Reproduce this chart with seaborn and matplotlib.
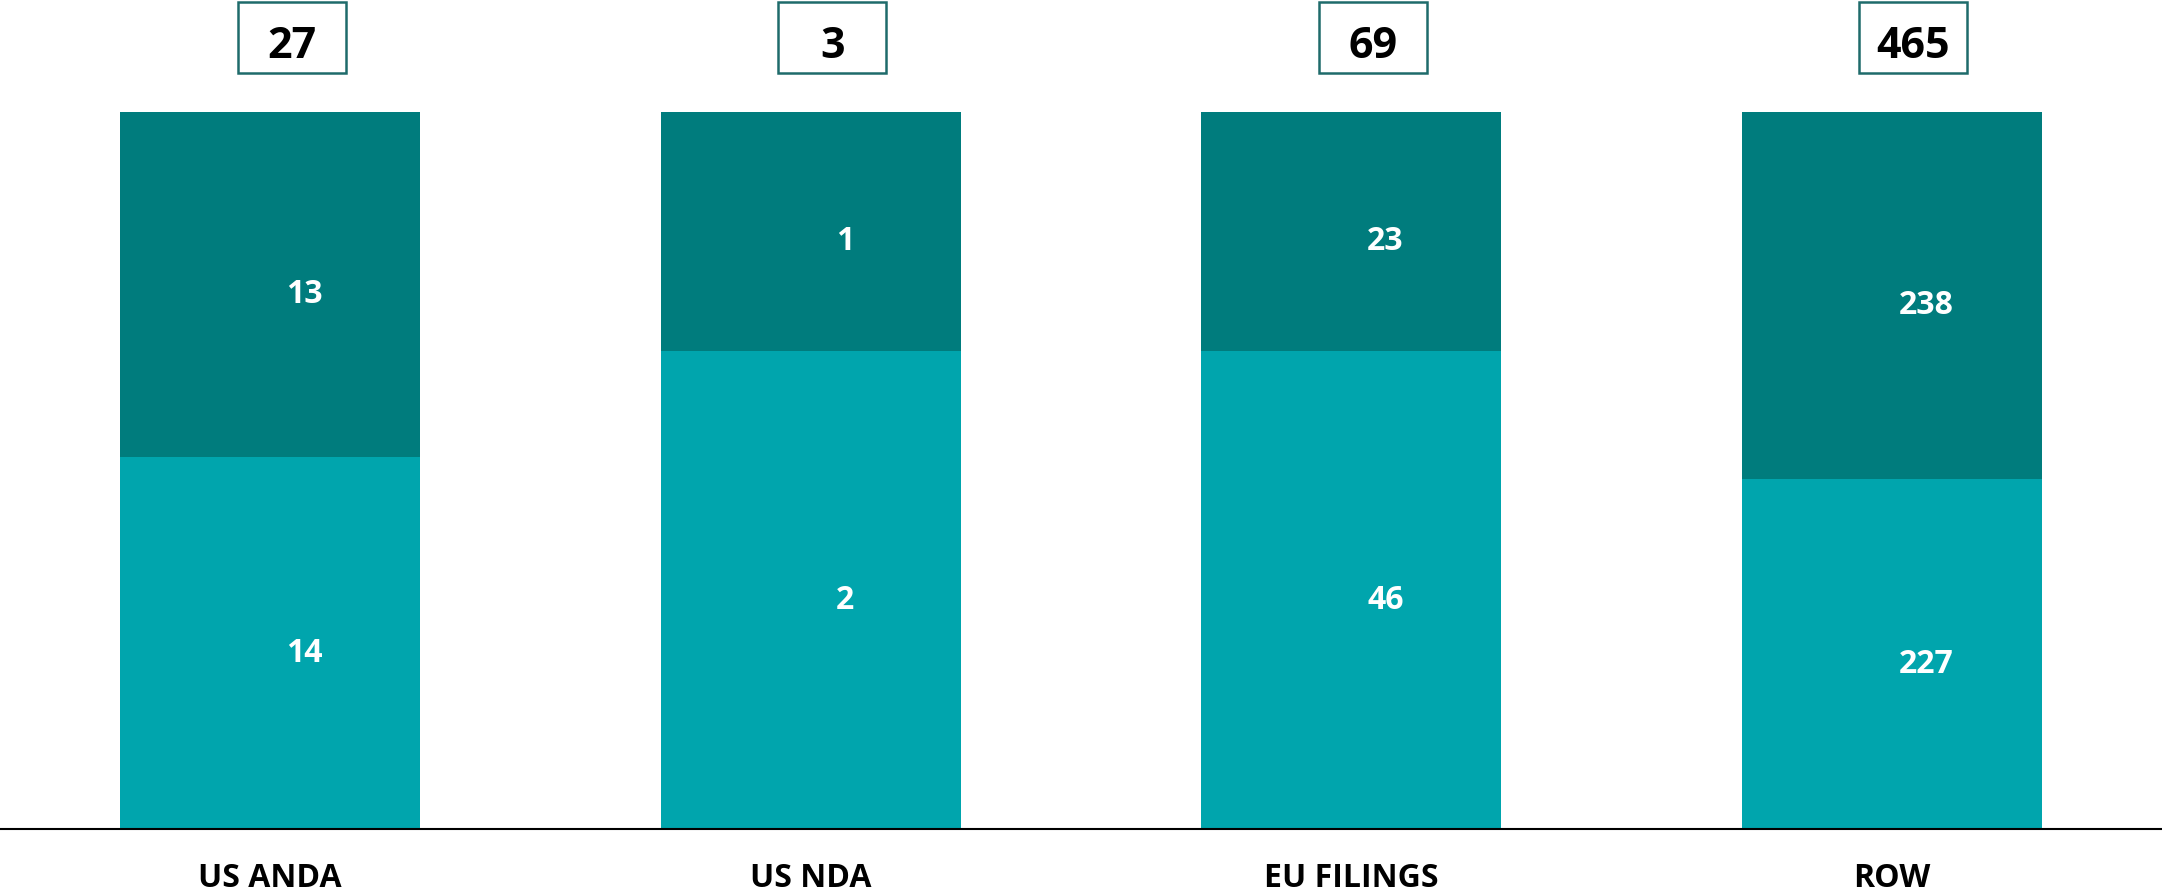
import pandas as pd
import numpy as np
import seaborn as sns
import matplotlib.pyplot as plt
from matplotlib.patches import Rectangle

# Data
categories = ['US ANDA', 'US NDA', 'EU FILINGS', 'ROW']
lower_vals = [14, 2, 46, 227]
upper_vals = [13, 1, 23, 238]
totals = [27, 3, 69, 465]

light = '#00A5AD'
dark = '#007C7D'
box_edge = '#1E6B6B'

df = pd.DataFrame({'category': categories, 'lower': lower_vals, 'upper': upper_vals, 'total': totals})
df['lower_share'] = df['lower'] / df['total']
df['full'] = 1.0

sns.set_theme(style='white')
plt.rcParams['font.family'] = ['Open Sans', 'DejaVu Sans']
plt.rcParams['font.weight'] = 'bold'

fig = plt.figure(figsize=(21.62, 8.93), dpi=100)
ax = fig.add_axes([0, 0.0717, 1, 0.8029])

bw = 0.555
sns.barplot(data=df, x='category', y='full', color=dark, width=bw, saturation=1,
            linewidth=0, ax=ax)
sns.barplot(data=df, x='category', y='lower_share', color=light, width=bw, saturation=1,
            linewidth=0, ax=ax)

off = 0.063
for i, row in df.iterrows():
    ls = row['lower_share']
    ax.text(i + off, ls / 2 - 0.014, str(row['lower']), ha='center', va='center',
            color='white', fontsize=23, fontweight='bold')
    ax.text(i + off, ls + (1 - ls) / 2 - 0.014, str(row['upper']), ha='center', va='center',
            color='white', fontsize=23, fontweight='bold')
    # boxed total above each bar
    bx = i + 0.04
    ax.add_patch(Rectangle((bx - 0.1, 1.054), 0.2, 0.099, fill=False, edgecolor=box_edge,
                           linewidth=1.8, clip_on=False))
    ax.text(bx, 1.092, str(row['total']), ha='center', va='center', color='black',
            fontsize=31, fontweight='bold', clip_on=False)

ax.set_xlim(-0.5, 3.5)
ax.set_ylim(0, 1)
ax.set_xlabel('')
ax.set_ylabel('')
ax.set_yticks([])
ax.tick_params(axis='x', length=0, pad=24, labelsize=23, labelcolor='black')
for lab in ax.get_xticklabels():
    lab.set_fontweight('bold')
for s in ['top', 'left', 'right']:
    ax.spines[s].set_visible(False)
ax.spines['bottom'].set_color('black')
ax.spines['bottom'].set_linewidth(1.5)

fig.savefig('out.png', dpi=100)
